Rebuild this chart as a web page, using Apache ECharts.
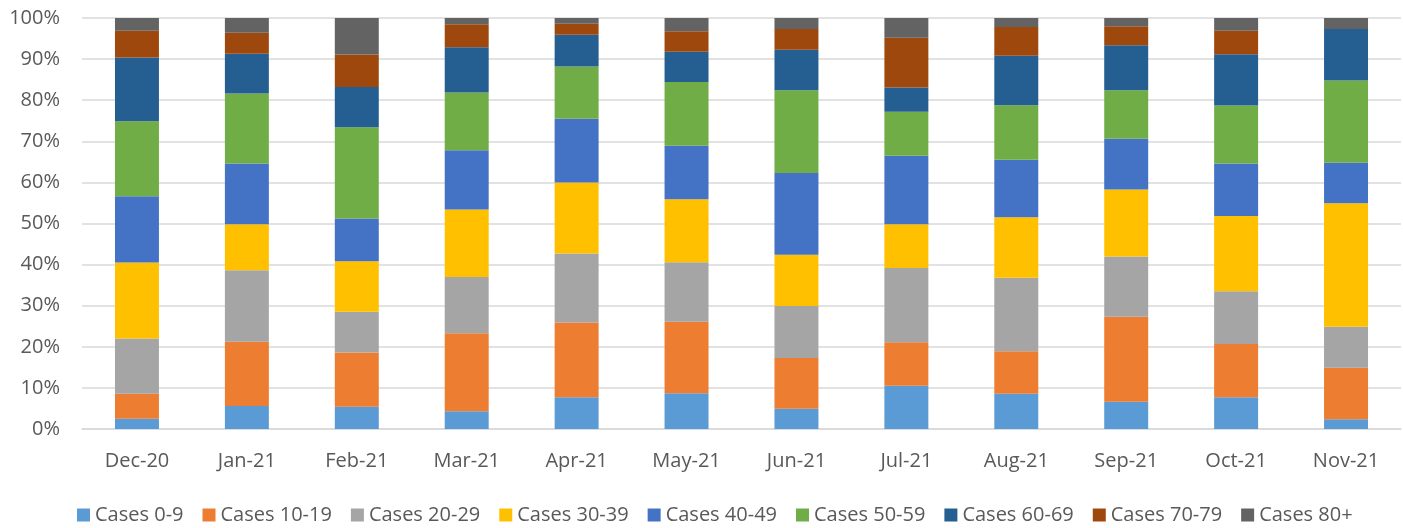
<!DOCTYPE html>
<html>
<head>
    <meta charset="utf-8" />
    <title>Cases by age group</title>
    <script src="https://cdn.jsdelivr.net/npm/echarts@6/dist/echarts.min.js"></script>
    <style>
        html, body { margin: 0; padding: 0; background: #fff; }
        #main { width: 1403px; height: 528px; }
    </style>
</head>
<body>
<div id="main"></div>
<script type="text/javascript">
    // months on the x axis
    var months = ['Dec-20', 'Jan-21', 'Feb-21', 'Mar-21', 'Apr-21', 'May-21',
                  'Jun-21', 'Jul-21', 'Aug-21', 'Sep-21', 'Oct-21', 'Nov-21'];

    // share of cases per age group (%)
    var cases0_9   = [2.5, 5.6, 5.4, 4.3, 7.7, 8.7, 4.9, 10.5, 8.6, 6.6, 7.7, 2.4];
    var cases10_19 = [6.1, 15.6, 13.2, 19.0, 18.2, 17.4, 12.4, 10.6, 10.3, 20.7, 13.0, 12.5];
    var cases20_29 = [13.4, 17.4, 9.9, 13.7, 16.8, 14.5, 12.6, 18.1, 17.9, 14.7, 12.8, 10.0];
    var cases30_39 = [18.5, 11.2, 12.3, 16.4, 17.3, 15.3, 12.5, 10.6, 14.7, 16.3, 18.3, 30.0];
    var cases40_49 = [16.1, 14.8, 10.4, 14.4, 15.5, 13.0, 19.9, 16.7, 14.0, 12.3, 12.8, 9.9];
    var cases50_59 = [18.3, 17.0, 22.2, 14.1, 12.7, 15.5, 20.1, 10.7, 13.3, 11.8, 14.1, 20.0];
    var cases60_69 = [15.5, 9.7, 9.8, 11.0, 7.7, 7.4, 9.9, 5.9, 12.0, 11.0, 12.5, 12.5];
    var cases70_79 = [6.5, 5.1, 7.9, 5.6, 2.7, 5.0, 5.0, 12.1, 7.0, 4.6, 5.7, 0];
    var cases80p   = [3.1, 3.6, 8.9, 1.5, 1.4, 3.2, 2.7, 4.8, 2.2, 2.0, 3.1, 2.7];

    var seriesNames = ['Cases 0-9', 'Cases 10-19', 'Cases 20-29', 'Cases 30-39', 'Cases 40-49',
                       'Cases 50-59', 'Cases 60-69', 'Cases 70-79', 'Cases 80+'];
    var seriesData = [cases0_9, cases10_19, cases20_29, cases30_39, cases40_49,
                      cases50_59, cases60_69, cases70_79, cases80p];
    var colors = ['#5B9BD5', '#ED7D31', '#A5A5A5', '#FFC000', '#4472C4',
                  '#70AD47', '#255E91', '#9E480E', '#636363'];

    var series = [];
    for (let i = 0; i < seriesNames.length; i++) {
        series.push({
            name: seriesNames[i],
            type: 'bar',
            stack: 'total',
            barWidth: '40%',
            data: seriesData[i],
            itemStyle: { color: colors[i] }
        });
    }

    var option = {
        animation: false,
        color: colors,
        textStyle: { fontFamily: 'Open Sans, Noto Sans, sans-serif' },
        grid: { left: 82, right: 2, top: 18, bottom: 99 },
        legend: {
            top: 500,
            left: 72,
            itemWidth: 13,
            itemHeight: 13,
            itemGap: 19,
            icon: 'rect',
            textStyle: { fontSize: 20, color: '#595959' },
            data: seriesNames
        },
        xAxis: {
            type: 'category',
            data: months,
            axisLine: { lineStyle: { color: '#d9d9d9', width: 1.5 } },
            axisTick: { show: false },
            axisLabel: { fontSize: 20, color: '#595959', margin: 22 }
        },
        yAxis: {
            type: 'value',
            min: 0,
            max: 100,
            interval: 10,
            axisLine: { show: false },
            axisTick: { show: false },
            axisLabel: { fontSize: 20, color: '#595959', margin: 22, formatter: '{value}%' },
            splitLine: { lineStyle: { color: '#d9d9d9', width: 1.5 } }
        },
        series: series
    };

    let myChart = echarts.init(document.getElementById('main'));
    myChart.setOption(option);
</script>
</body>
</html>
